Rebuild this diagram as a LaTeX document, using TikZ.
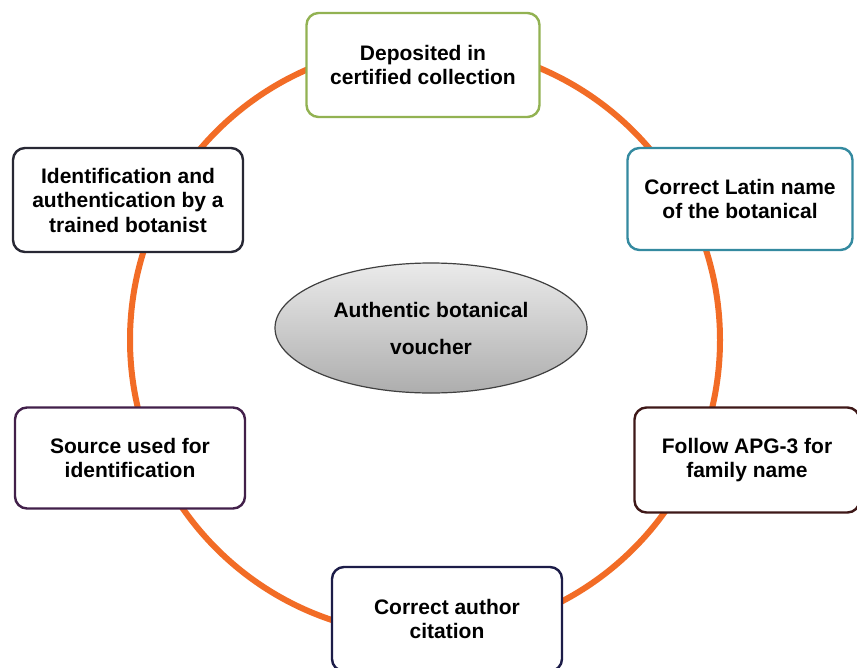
\documentclass[tikz,border=0pt]{standalone}
\usepackage{fontspec}
\setmainfont{Liberation Sans}
\usetikzlibrary{shapes.geometric}

\definecolor{ringorange}{RGB}{242,108,38}
\definecolor{leafgreen}{RGB}{146,178,82}
\definecolor{tealline}{RGB}{52,138,160}
\definecolor{inkgray}{RGB}{40,40,52}
\definecolor{plumline}{RGB}{66,32,74}
\definecolor{rustline}{RGB}{62,24,24}
\definecolor{navyline}{RGB}{28,28,72}

\tikzset{
  stepbox/.style={draw, line width=2.4pt, rounded corners=12pt, fill=white,
    minimum width=230pt, minimum height=100pt, align=center, inner sep=0pt,
    font=\fontsize{21}{24.5}\selectfont\bfseries},
  hub/.style={ellipse, draw=black!75, line width=1.2pt,
    top color=black!8, bottom color=black!32,
    minimum width=312pt, minimum height=130pt, align=center, inner sep=0pt,
    font=\fontsize{21}{37}\selectfont\bfseries},
  ring/.style={draw=ringorange, line width=6pt}
}

\begin{document}
\begin{tikzpicture}[x=1pt,y=-1pt]
  \useasboundingbox (0,0) rectangle (857,667);
  \fill[white] (0,0) rectangle (857,667);

  % orange cycle behind the steps
  \coordinate (ringc) at (425,340);
  \draw[ring] (ringc) circle[radius=295];

  % central concept
  \node[hub] (hub) at (431,328) {Authentic botanical\\voucher};

  % the six steps around the cycle
  \node[stepbox, draw=leafgreen, minimum width=233pt, minimum height=104pt] (deposit) at (423,65)
    {Deposited in\\certified collection};
  \node[stepbox, draw=tealline, minimum width=225pt, minimum height=102pt] (latin) at (740,199)
    {Correct Latin name\\of the botanical};
  \node[stepbox, draw=rustline, minimum width=225pt, minimum height=105pt] (apg) at (747,460)
    {Follow APG-3 for\\family name};
  \node[stepbox, draw=navyline, minimum width=230pt, minimum height=104pt] (author) at (447,619)
    {Correct author\\citation};
  \node[stepbox, draw=plumline, minimum width=230pt, minimum height=101pt] (source) at (130,458)
    {Source used for\\identification};
  \node[stepbox, draw=inkgray, minimum width=230pt, minimum height=104pt] (ident) at (128,200)
    {Identification and\\authentication by a\\trained botanist};
\end{tikzpicture}
\end{document}
